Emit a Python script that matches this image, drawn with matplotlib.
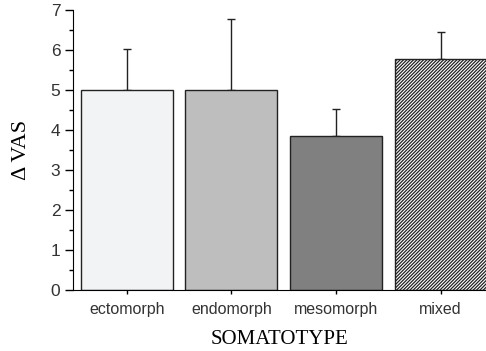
import matplotlib
matplotlib.use("Agg")
import matplotlib.pyplot as plt
import numpy as np

categories = ["ectomorph", "endomorph", "mesomorph", "mixed"]
means = [5.0, 5.0, 3.85, 5.78]
errors = [1.02, 1.78, 0.68, 0.68]
colors = ["#f2f3f5", "#bebebe", "#808080", "white"]
hatches = ["", "", "", "/" * 10]

plt.rcParams["hatch.linewidth"] = 0.9
plt.rcParams["hatch.color"] = "#111111"

fig = plt.figure(figsize=(4.86, 3.51), dpi=100)
ax = fig.add_axes([0.150, 0.174, 0.85, 0.7975])

x = np.arange(len(categories))
bars = ax.bar(x, means, width=0.88, color=colors, edgecolor="#222222",
              linewidth=1.0, zorder=2)
for b, h in zip(bars, hatches):
    b.set_hatch(h)
ax.errorbar(x, means, yerr=[np.zeros(len(errors)), errors], fmt="none",
            ecolor="#222222", elinewidth=1.0, capsize=3, capthick=1.0, zorder=1)

ax.set_xlim(-0.517, 3.435)
ax.set_ylim(0, 7)
ax.set_yticks(range(8))
ax.set_yticks(np.arange(0.5, 7, 1), minor=True)
ax.set_xticks(x)
ax.set_xticklabels(categories, fontsize=11.5, family="Liberation Sans", color="#333333")
for lab in ax.get_yticklabels():
    lab.set_fontsize(12.5)
    lab.set_family("Liberation Sans")
    lab.set_color("#333333")
ax.tick_params(axis="y", which="major", length=6, width=1, direction="out", pad=3)
ax.tick_params(axis="y", which="minor", length=3, width=1, direction="out")
ax.tick_params(axis="x", length=3, width=1, direction="out", pad=6)

ax.spines["top"].set_visible(False)
ax.spines["right"].set_visible(False)
ax.spines["left"].set_bounds(0, 7)

ax.set_ylabel("Δ VAS", family="Liberation Serif", fontsize=16, labelpad=14)
ax.set_xlabel("SOMATOTYPE", family="Liberation Serif", fontsize=15, labelpad=9)

fig.savefig("out.png", dpi=100)
